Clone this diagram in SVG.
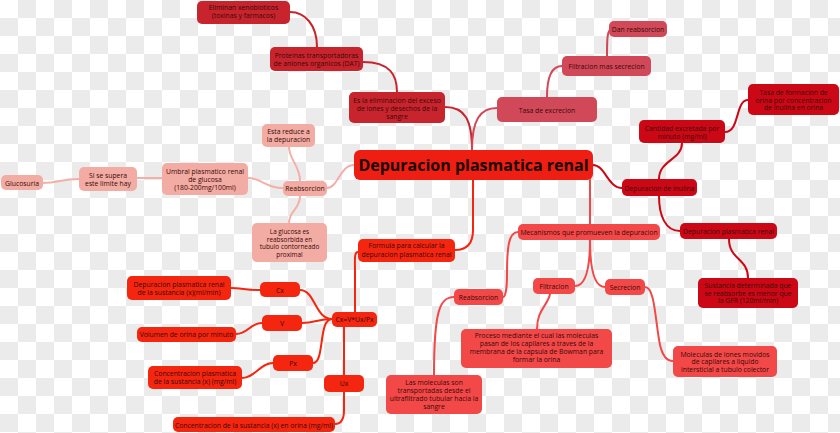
<svg xmlns="http://www.w3.org/2000/svg" width="840" height="433" viewBox="0 0 840 433">
<defs>
<pattern id="chk" width="36" height="36" patternUnits="userSpaceOnUse">
<rect width="36" height="36" fill="#ffffff"/>
<rect x="18" y="0" width="18" height="18" fill="#ebebeb"/>
<rect x="0" y="18" width="18" height="18" fill="#ebebeb"/>
</pattern>
<style>
text{font-family:"Open Sans","Noto Sans","Liberation Sans",sans-serif;font-size:6.8px;fill:#3a0808;text-anchor:middle}
.c{fill:none;stroke-width:2;stroke-linecap:round}
.dk rect{fill:#c8242d}.dkc{stroke:#c8242d}
.tx rect{fill:#d14858}.txc{stroke:#d14858}
.in rect{fill:#cc0816}.inc{stroke:#cc0816}
.me rect{fill:#f24848}.mec{stroke:#f24848}
.fo rect{fill:#f4260f}.foc{stroke:#f4260f}
.sa rect{fill:#f2aca3}.sac{stroke:#f2b0a6}
.main rect{fill:#ee1e12}
.main text{font-size:16px;font-weight:bold;fill:#1a0303}
.sm{font-size:6.4px}
</style>
</defs>
<rect width="840" height="433" fill="url(#chk)"/>
<g id="connectors">
<path class="c dkc" d="M445,107 C465,107 472,120 472,150"/>
<path class="c txc" d="M472,150 C472,120 480,108 497,108"/>
<path class="c dkc" d="M363,62 C390,62 397,75 397,92"/>
<path class="c dkc" d="M290,12 C305,12 317,25 317,47"/>
<path class="c txc" d="M547,97 C547,75 552,66 562,66"/>
<path class="c txc" d="M607,56 C607,40 607,29 612,29"/>
<path class="c inc" d="M593,165 C605,165 608,188 622,188"/>
<path class="c inc" d="M659,179 C659,160 682,160 682,143"/>
<path class="c inc" d="M725,132 C740,132 735,100 748,100"/>
<path class="c inc" d="M659,196 C659,215 665,231 680,231"/>
<path class="c inc" d="M729,239 C729,260 748,258 748,278"/>
<path class="c mec" d="M590,180 L590,224"/>
<path class="c mec" d="M518,232 C508,232 507,250 507,275 C507,290 505,297 503,297"/>
<path class="c mec" d="M590,240 C590,270 585,286 575,286"/>
<path class="c mec" d="M590,240 C590,270 595,287 605,287"/>
<path class="c mec" d="M550,294 C548,305 537,310 537,329"/>
<path class="c mec" d="M645,287 C655,287 655,320 660,345 C663,358 668,361 673,361"/>
<path class="c mec" d="M454,297 C440,297 434,310 434,375"/>
<path class="c foc" d="M473,180 L473,230 C473,245 465,250 455,250"/>
<path class="c foc" d="M358,252 C354,252 355,260 355,270 L355,312"/>
<path class="c foc" d="M332,319 C315,319 315,290 300,290"/>
<path class="c foc" d="M332,319 C318,319 315,323 302,323"/>
<path class="c foc" d="M332,319 C318,319 325,363 313,363"/>
<path class="c foc" d="M344,327 L344,375"/>
<path class="c foc" d="M260,290 C248,290 240,288 231,288"/>
<path class="c foc" d="M262,323 C250,323 248,334 236,334"/>
<path class="c foc" d="M273,363 C260,363 255,378 242,378"/>
<path class="c foc" d="M344,392 L344,410 C344,420 340,424 335,424"/>
<path class="c sac" d="M354,165 C340,165 338,188 327,188"/>
<path class="c sac" d="M300,181 C300,165 289,160 289,147"/>
<path class="c sac" d="M300,196 C300,210 289,210 289,223"/>
<path class="c sac" d="M283,188 C265,188 262,178 248,178"/>
<path class="c sac" d="M162,178 L137,178"/>
<path class="c sac" d="M79,179 C60,179 60,183 42,183"/>
</g>
<g id="n_central" class="main"><rect x="354" y="150" width="239" height="30" rx="6"/><text x="473.5" y="171">Depuracion plasmatica renal</text></g>
<g id="n_es" class="dk"><rect x="349" y="92" width="96" height="31" rx="5"/><text x="397" y="102.5">Es la eliminacion del exceso</text><text x="397" y="110.8">de iones y desechos de la</text><text x="397" y="119.2">sangre</text></g>
<g id="n_prot" class="dk"><rect x="270" y="47" width="93" height="24" rx="5"/><text x="316.5" y="57.5">Proteinas transportadoras</text><text x="316.5" y="65.5">de aniones organicos (DAT)</text></g>
<g id="n_elim" class="dk"><rect x="197" y="1" width="93" height="23" rx="5"/><text x="243.5" y="10">Eliminan xenobioticos</text><text x="243.5" y="17.8">(toxinas y farmacos)</text></g>
<g id="n_tasa" class="tx"><rect x="497" y="97" width="100" height="25" rx="5"/><text x="547" y="112.5">Tasa de excrecion</text></g>
<g id="n_filt2" class="tx"><rect x="562" y="56" width="89" height="20" rx="5"/><text x="606.5" y="68.5">Filtracion mas secrecion</text></g>
<g id="n_dan" class="tx"><rect x="609" y="21" width="58" height="16" rx="5"/><text x="638" y="31.5">Dan reabsorcion</text></g>
<g id="n_inul" class="in"><rect x="622" y="179" width="75" height="17" rx="5"/><text x="659.5" y="190.5">Depuracion de inulina</text></g>
<g id="n_cant" class="in"><rect x="639" y="120" width="86" height="23" rx="5"/><text x="682" y="130.5">Cantidad excretada por</text><text x="682" y="138.5">minuto (mg/ml)</text></g>
<g id="n_tasaf" class="in"><rect x="748" y="84" width="91" height="31" rx="5"/><text x="793.5" y="94.8">Tasa de formacion de</text><text x="793.5" y="102.5">orina por concentracion</text><text x="793.5" y="110.2">de inulina en orina</text></g>
<g id="n_dpr" class="in"><rect x="680" y="223" width="97" height="16" rx="5"/><text x="728.5" y="233.5">Depuracion plasmatica renal</text></g>
<g id="n_sust" class="in"><rect x="698" y="278" width="100" height="30" rx="5"/><text x="748" y="287.5">Sustancia determinada que</text><text x="748" y="295.8">se reabsorbe es menor que</text><text x="748" y="303.2">la GFR (120ml/min)</text></g>
<g id="n_mec" class="me"><rect x="518" y="224" width="142" height="16" rx="5"/><text x="589" y="234.5">Mecanismos que promueven la depuracion</text></g>
<g id="n_reab2" class="me"><rect x="454" y="289" width="49" height="16" rx="5"/><text x="478.5" y="299.5">Reabsorcion</text></g>
<g id="n_filt" class="me"><rect x="533" y="278" width="42" height="16" rx="5"/><text x="554" y="288.5">Filtracion</text></g>
<g id="n_secr" class="me"><rect x="605" y="279" width="40" height="16" rx="5"/><text x="625" y="289.5">Secrecion</text></g>
<g id="n_proc" class="me"><rect x="461" y="329" width="151" height="39" rx="5"/><text x="536.5" y="338.2">Proceso mediante el cual las moleculas</text><text x="536.5" y="346.2">pasan de los capilares a traves de la</text><text x="536.5" y="354.2">membrana de la capsula de Bowman para</text><text x="536.5" y="362.4">formar la orina</text></g>
<g id="n_lasmol" class="me"><rect x="386" y="375" width="96" height="39" rx="5"/><text x="434" y="385.2">Las moleculas son</text><text x="434" y="393.3">transportadas desde el</text><text x="434" y="401.4">ultrafiltrado tubular hacia la</text><text x="434" y="409.4">sangre</text></g>
<g id="n_molec" class="me"><rect x="673" y="346" width="104" height="31" rx="5"/><text x="725" y="356.5">Moleculas de iones movidos</text><text x="725" y="364.2">de capilares a liquido</text><text x="725" y="371.8">intersticial a tubulo colector</text></g>
<g id="n_form" class="fo"><rect x="358" y="239" width="97" height="23" rx="5"/><text x="406.5" y="248.2">Formula para calcular la</text><text x="406.5" y="256.5">depuracion plasmatica renal</text></g>
<g id="n_cxf" class="fo"><rect x="332" y="312" width="45" height="15" rx="5"/><text x="354.5" y="322">Cx=V*Ux/Px</text></g>
<g id="n_cx" class="fo"><rect x="260" y="282" width="40" height="15" rx="5"/><text x="280" y="292.5">Cx</text></g>
<g id="n_v" class="fo"><rect x="262" y="315" width="40" height="16" rx="5"/><text x="282" y="325.5">V</text></g>
<g id="n_px" class="fo"><rect x="273" y="355" width="40" height="16" rx="5"/><text x="293" y="365.5">Px</text></g>
<g id="n_ux" class="fo"><rect x="324" y="375" width="40" height="17" rx="5"/><text x="344" y="386">Ux</text></g>
<g id="n_dprx" class="fo"><rect x="127" y="276" width="104" height="24" rx="5"/><text x="179" y="286.8">Depuracion plasmatica renal</text><text x="179" y="294.8">de la sustancia (x)(ml/min)</text></g>
<g id="n_vol" class="fo"><rect x="137" y="327" width="99" height="15" rx="5"/><text x="186.5" y="337">Volumen de orina por minuto</text></g>
<g id="n_conp" class="fo"><rect x="148" y="366" width="94" height="23" rx="5"/><text x="195" y="375.8">Concentracion plasmatica</text><text x="195" y="384.2">de la sustancia (x) (mg/ml)</text></g>
<g id="n_conx" class="fo"><rect x="173" y="417" width="162" height="15" rx="5"/><text x="254" y="427.5">Concentracion de la sustancia (x) en orina (mg/ml)</text></g>
<g id="n_reab1" class="sa"><rect x="283" y="181" width="44" height="15" rx="5"/><text x="305" y="191">Reabsorcion</text></g>
<g id="n_esta" class="sa"><rect x="262" y="124" width="53" height="23" rx="5"/><text x="288.5" y="134.2">Esta reduce a</text><text x="288.5" y="141.8">la depuracion</text></g>
<g id="n_gluc" class="sa"><rect x="252" y="223" width="75" height="39" rx="5"/><text class="sm" x="289.5" y="234.3">La glucosa es</text><text class="sm" x="289.5" y="241.8">reabsorbida en</text><text class="sm" x="289.5" y="249.3">tubulo contorneado</text><text class="sm" x="289.5" y="256.8">proximal</text></g>
<g id="n_umb" class="sa"><rect x="162" y="163" width="86" height="32" rx="5"/><text x="205" y="174.2">Umbral plasmatico renal</text><text x="205" y="181.9">de glucosa</text><text x="205" y="190">(180-200mg/100ml)</text></g>
<g id="n_si" class="sa"><rect x="79" y="167" width="58" height="24" rx="5"/><text x="108" y="177.5">Si se supera</text><text x="108" y="185.8">este limite hay</text></g>
<g id="n_glucos" class="sa"><rect x="1" y="175" width="42" height="15" rx="5"/><text x="22" y="185.5">Glucosuria</text></g>
</svg>
